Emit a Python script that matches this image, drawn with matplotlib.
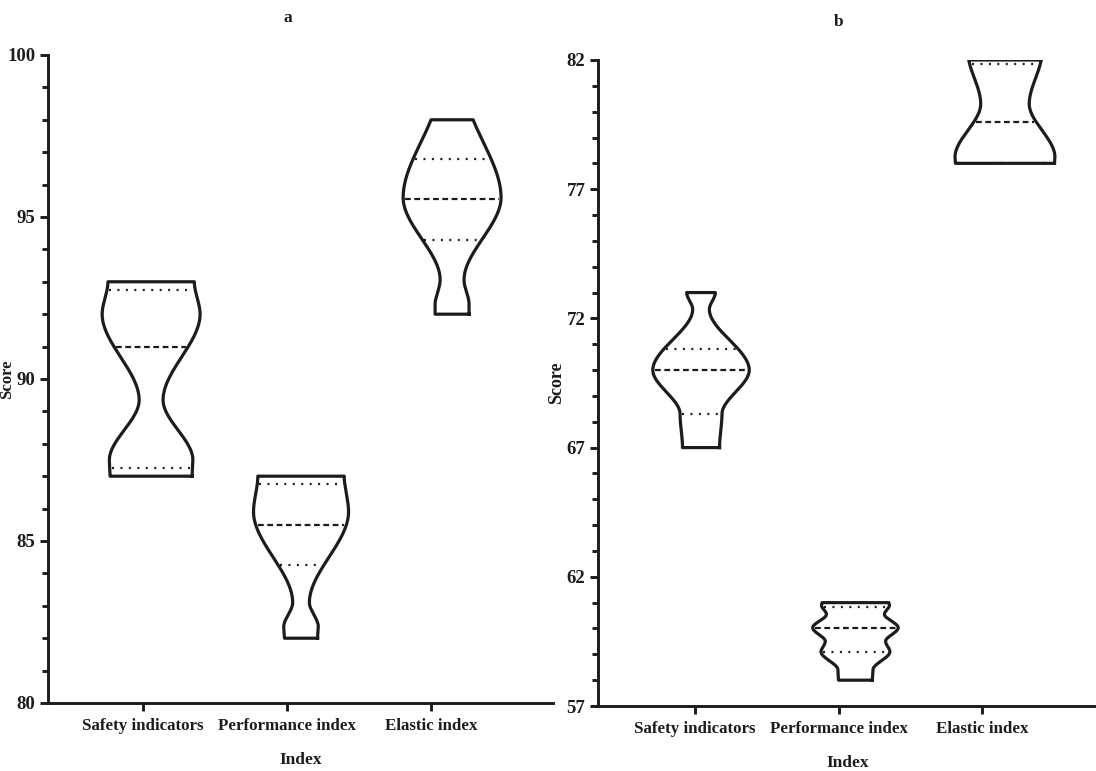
import numpy as np
from matplotlib import pyplot as plt
from matplotlib.ticker import MultipleLocator

plt.rcParams['font.family'] = ['Liberation Serif', 'DejaVu Serif']
plt.rcParams['font.weight'] = 'bold'

categories = ['Safety indicators', 'Performance index', 'Elastic index']

# panel a: range, quartiles and the outline profile (score level, half width)
a_min = [87.0, 82.0, 92.0]
a_max = [93.0, 87.0, 98.0]
a_q1 = [87.25, 84.25, 94.3]
a_med = [91.0, 85.5, 95.55]
a_q3 = [92.75, 86.75, 96.8]
a_levels = [[87.0, 87.5, 89.35, 92.0, 93.0],
            [82.0, 82.35, 83.1, 85.9, 87.0],
            [92.0, 92.3, 93.06, 95.6, 99.0]]
a_widths = [[0.285, 0.29, 0.083, 0.34, 0.30],
            [0.115, 0.12, 0.058, 0.33, 0.30],
            [0.118, 0.118, 0.083, 0.34, 0.095]]

# panel b
b_min = [67.0, 58.0, 78.0]
b_max = [73.0, 61.0, 82.0]
b_q1 = [68.3, 59.08, 78.0]
b_med = [70.0, 60.03, 79.6]
b_q3 = [70.8, 60.84, 81.85]
b_levels = [[67.0, 68.3, 70.0, 72.35, 73.0],
            [58.0, 58.4, 59.1, 59.5, 60.03, 60.55, 60.9, 61.0],
            [78.0, 78.25, 80.3, 82.3]]
b_widths = [[0.129, 0.146, 0.336, 0.058, 0.10],
            [0.118, 0.122, 0.24, 0.21, 0.298, 0.202, 0.237, 0.233],
            [0.345, 0.348, 0.169, 0.258]]

INK = '#1c1c1c'


def profile(y, levels, widths):
    levels = np.asarray(levels)
    widths = np.asarray(widths)
    i = np.clip(np.searchsorted(levels, y) - 1, 0, len(levels) - 2)
    t = np.clip((y - levels[i]) / (levels[i + 1] - levels[i]), 0, 1)
    s = t * t * (3 - 2 * t)
    return widths[i] + s * (widths[i + 1] - widths[i])


def draw_violin(ax, pos, lo, hi, q1, med, q3, levels, widths):
    y = np.linspace(lo, hi, 500)
    w = profile(y, levels, widths)
    xs = np.concatenate([pos + w, (pos - w)[::-1], [pos + w[0]]])
    ys = np.concatenate([y, y[::-1], [y[0]]])
    ax.plot(xs, ys, color=INK, lw=2.3, solid_joinstyle='round', zorder=3)
    for val, dash in [(q1, (0.9, 2.9)), (q3, (0.9, 2.9)), (med, (2.6, 1.6))]:
        hw = profile(np.array([val]), levels, widths)[0] - 0.015
        ax.plot([pos - hw, pos + hw], [val, val], color=INK, lw=1.6,
                dashes=dash, dash_capstyle='butt', zorder=2)


def setup(ax, ylim, yticks, xlim, label_x, label_size):
    ax.set_xlim(*xlim)
    ax.set_ylim(*ylim)
    ax.set_yticks(yticks)
    ax.yaxis.set_minor_locator(MultipleLocator(1))
    ax.set_xticks(range(len(categories)))
    ax.set_xticklabels(categories, fontsize=12.2, fontweight='bold')
    for lab in ax.get_yticklabels():
        lab.set_fontsize(13.5)
        lab.set_fontweight('bold')
    for side in ['top', 'right']:
        ax.spines[side].set_visible(False)
    for side in ['left', 'bottom']:
        ax.spines[side].set_linewidth(2.1)
        ax.spines[side].set_color(INK)
    ax.tick_params(axis='both', which='major', length=6, width=2.1, color=INK,
                   labelcolor=INK, pad=3)
    ax.tick_params(axis='x', which='major', pad=5)
    ax.tick_params(axis='y', which='minor', length=4, width=2.1, color=INK)
    ax.set_xlabel('Index', fontsize=12.5, fontweight='bold', color=INK, labelpad=13)
    ax.set_ylabel('Score', fontsize=label_size, fontweight='bold', color=INK)
    ax.yaxis.set_label_coords(label_x, 0.5)


fig = plt.figure(figsize=(10.96, 7.71), dpi=100)
ax_a = fig.add_axes([0.0438, 0.0882, 0.4608, 0.8405])
ax_b = fig.add_axes([0.5456, 0.0843, 0.4562, 0.8379])

setup(ax_a, (80, 100), [80, 85, 90, 95, 100], (-0.66, 2.847), -0.065, 12)
setup(ax_b, (57, 82), [57, 62, 67, 72, 77, 82], (-0.676, 2.808), -0.066, 13)

a_pos = [0.056, 1.097, 2.146]
b_pos = [0.042, 1.118, 2.16]
for k in range(len(categories)):
    draw_violin(ax_a, a_pos[k], a_min[k], a_max[k], a_q1[k], a_med[k], a_q3[k],
                a_levels[k], a_widths[k])
    draw_violin(ax_b, b_pos[k], b_min[k], b_max[k], b_q1[k], b_med[k], b_q3[k],
                b_levels[k], b_widths[k])

fig.text(288 / 1096, 1 - 18 / 771, 'a', ha='center', va='center',
         fontsize=12.5, fontweight='bold', color=INK)
fig.text(839 / 1096, 1 - 22 / 771, 'b', ha='center', va='center',
         fontsize=12.5, fontweight='bold', color=INK)

fig.savefig('out.png', dpi=100)
